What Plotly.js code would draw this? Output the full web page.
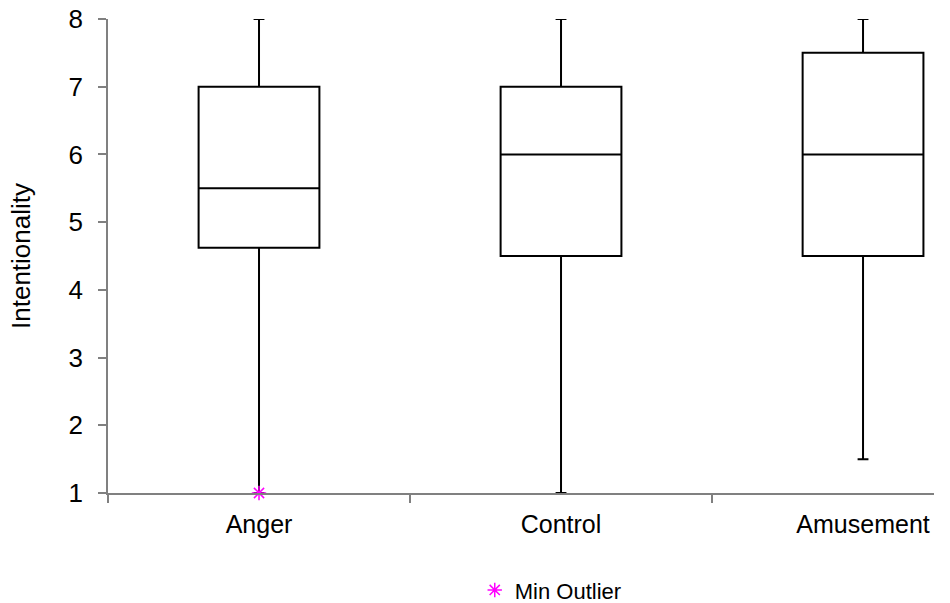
<!DOCTYPE html>
<html>
<head>
<meta charset="utf-8">
<script src="https://cdn.plot.ly/plotly-3.0.1.min.js"></script>
<style>
  body { margin: 0; background: #fff; }
  #plot { width: 950px; height: 603px; }
</style>
</head>
<body>
<div id="plot"></div>
<script>
// box statistics per condition
var conditions = ["Anger", "Control", "Amusement"];
var minVals = [1, 1, 1.5];
var q1Vals = [4.62, 4.5, 4.5];
var medianVals = [5.5, 6, 6];
var q3Vals = [7, 7, 7.5];
var maxVals = [8, 8, 8];

// outliers
var outlierX = ["Anger"];
var outlierY = [1];

var boxes = {
  type: "box",
  x: conditions,
  q1: q1Vals,
  median: medianVals,
  q3: q3Vals,
  lowerfence: minVals,
  upperfence: maxVals,
  width: 0.4,
  fillcolor: "white",
  line: {color: "black", width: 2},
  whiskerwidth: 0.09,
  showlegend: false,
  hoverinfo: "skip"
};

var outliers = {
  type: "scatter",
  mode: "markers",
  x: outlierX,
  y: outlierY,
  name: "Min Outlier",
  marker: {symbol: "asterisk-open", color: "#ff00ff", size: 12, line: {color: "#ff00ff", width: 1.5}},
  cliponaxis: false
};

var data = [boxes, outliers];

var layout = {
  width: 950,
  height: 603,
  paper_bgcolor: "white",
  plot_bgcolor: "white",
  font: {family: "Liberation Sans, Arial, sans-serif", color: "black", size: 24},
  margin: {l: 108, r: 16, t: 19, b: 110, autoexpand: false},
  showlegend: true,
  xaxis: {
    type: "category",
    range: [-0.5, 2.235],
    tickson: "boundaries",
    ticks: "outside",
    ticklen: 8,
    tickcolor: "#808080",
    tickwidth: 1.5,
    showline: true,
    linecolor: "#808080",
    linewidth: 1.5,
    showgrid: false,
    zeroline: false,
    ticklabelstandoff: 8,
    tickfont: {size: 25}
  },
  yaxis: {
    range: [1, 8],
    dtick: 1,
    ticks: "outside",
    ticklen: 8,
    tickcolor: "#808080",
    tickwidth: 1.5,
    showline: true,
    linecolor: "#808080",
    linewidth: 1.5,
    showgrid: false,
    zeroline: false,
    ticklabelstandoff: 10,
    tickfont: {size: 26},
    title: {text: "Intentionality", font: {size: 26}, standoff: 30}
  },
  legend: {
    orientation: "h",
    x: 0.536,
    xanchor: "center",
    y: -0.205,
    yanchor: "middle",
    itemwidth: 30,
    font: {size: 22}
  }
};

Plotly.newPlot("plot", data, layout, {displayModeBar: false});
</script>
</body>
</html>
